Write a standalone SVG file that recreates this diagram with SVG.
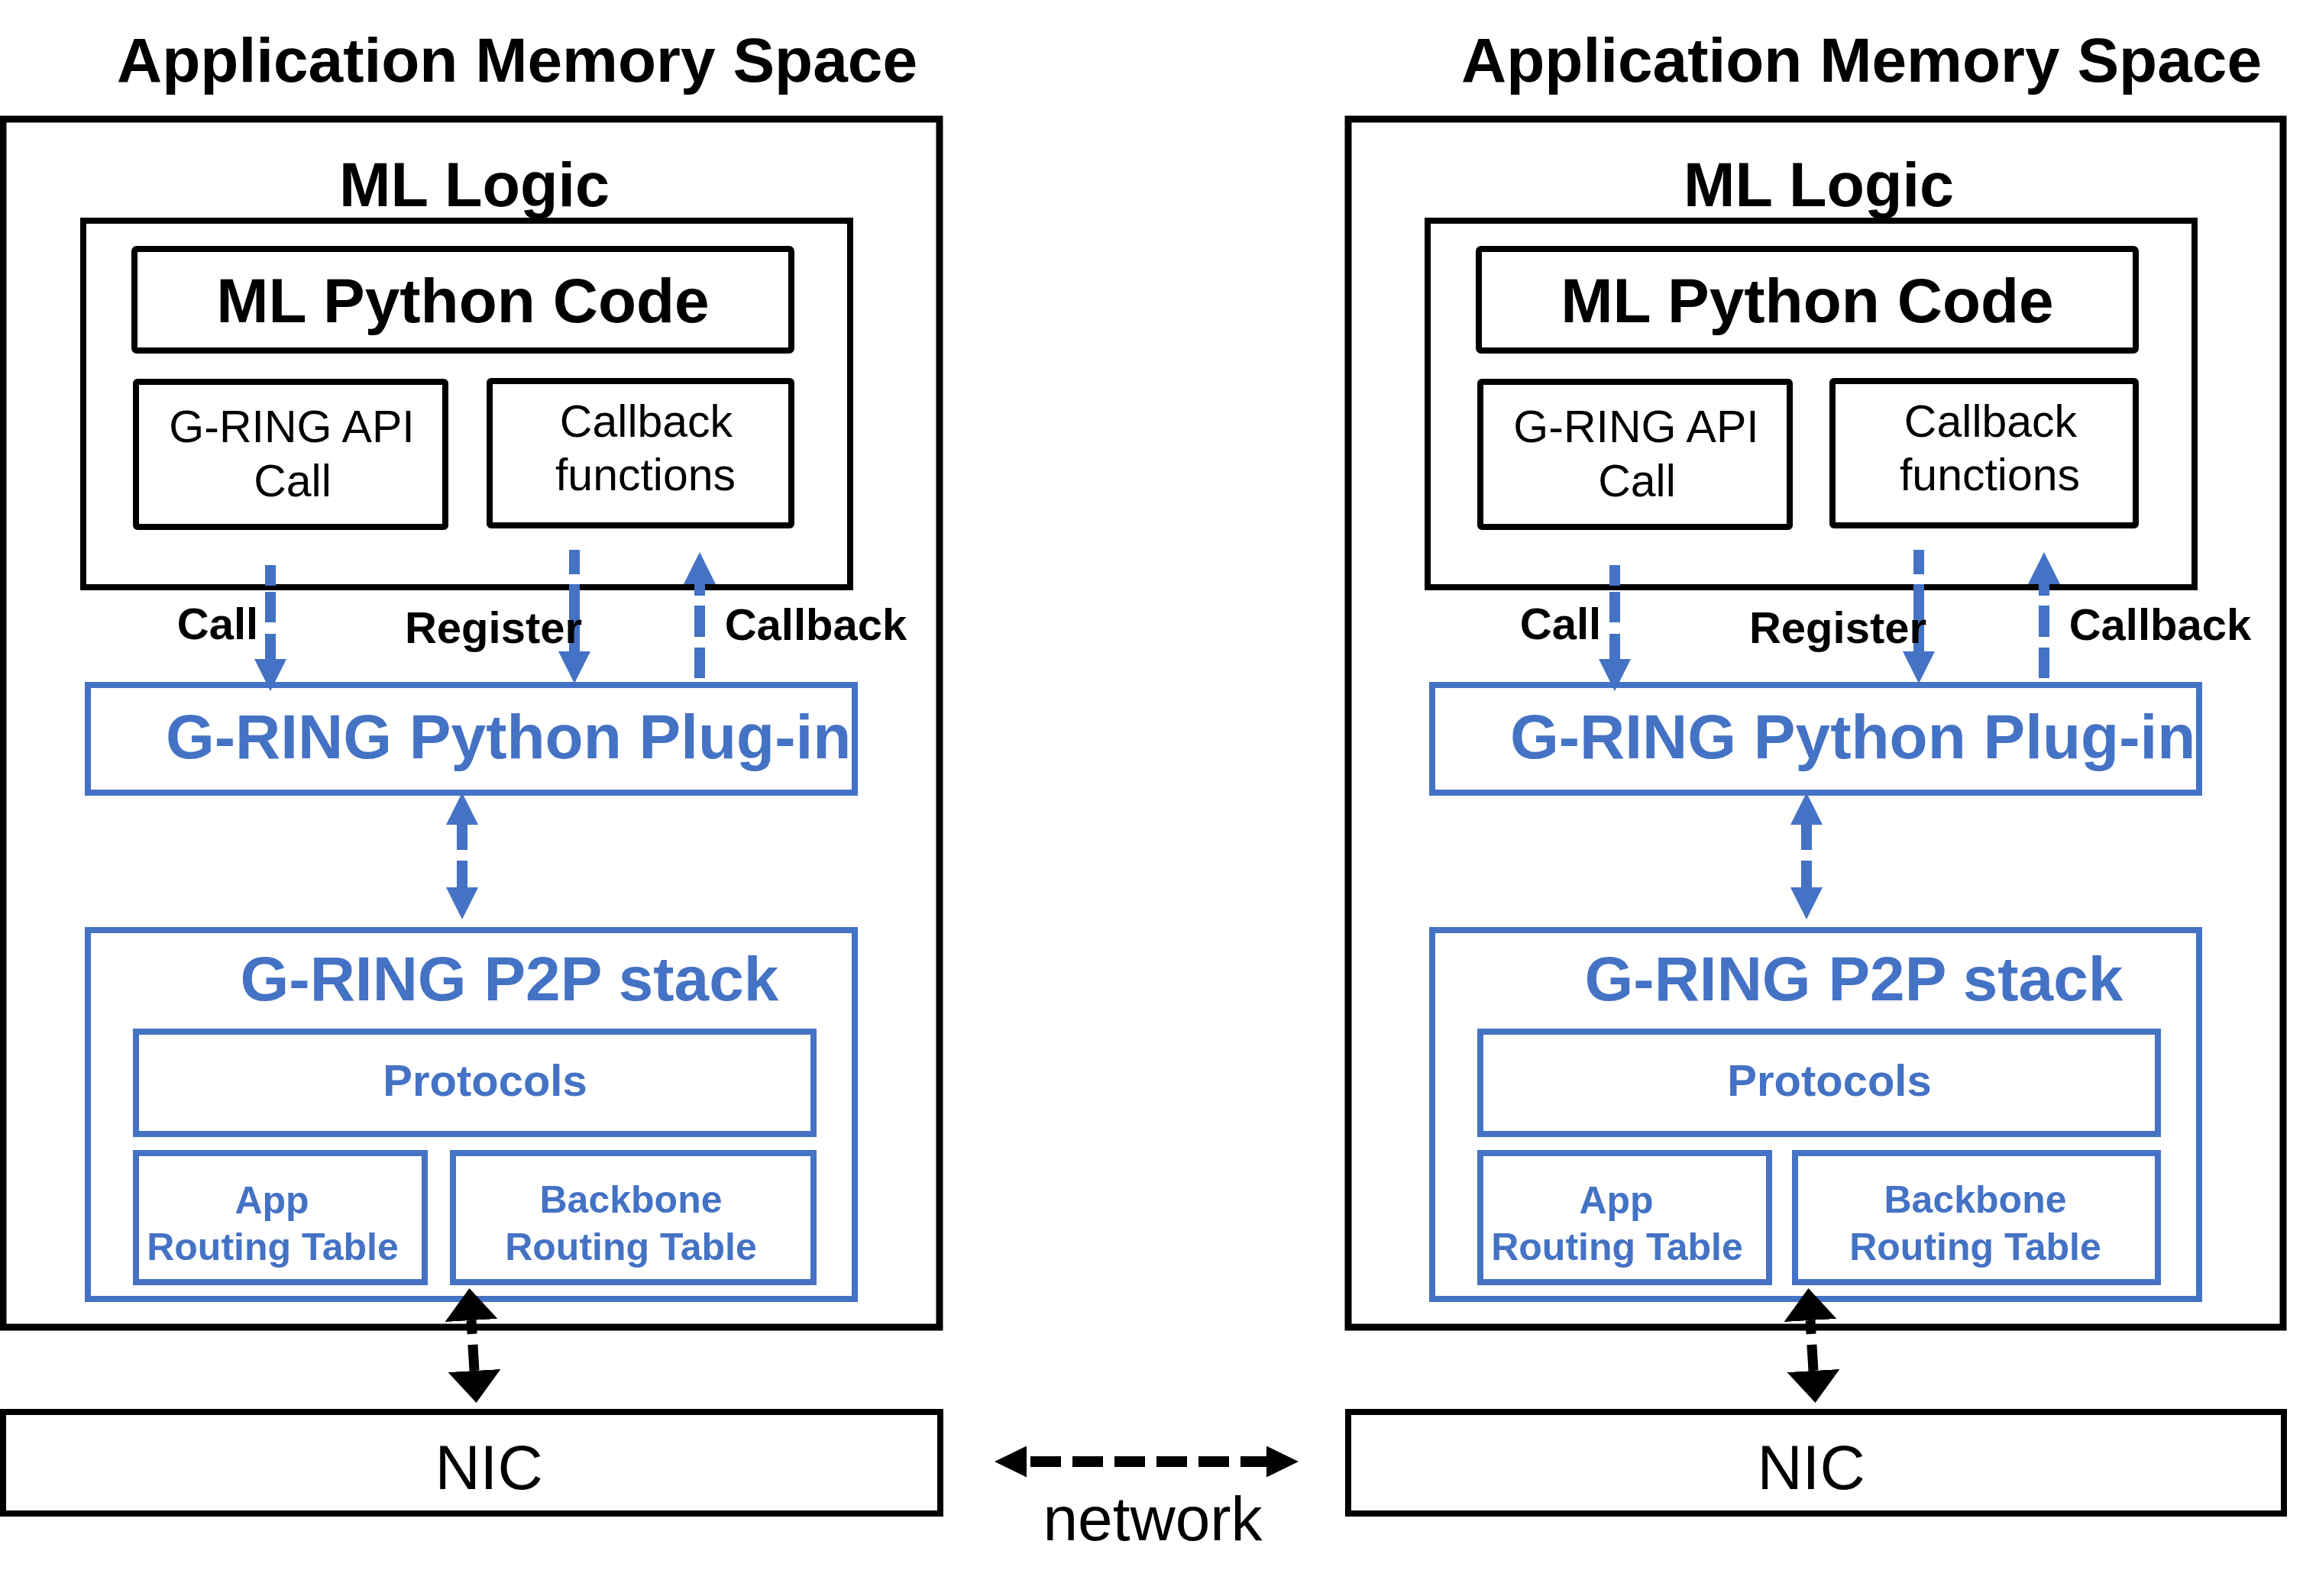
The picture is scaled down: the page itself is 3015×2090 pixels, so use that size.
<svg xmlns="http://www.w3.org/2000/svg" width="3015" height="2090" viewBox="0 0 3015 2090">
<style>
.box{fill:none;stroke:#000;stroke-width:8}
.outer{fill:none;stroke:#000;stroke-width:9}
.bbox{fill:none;stroke:#4472C4;stroke-width:8}
text{font-family:"Liberation Sans",Arial,Helvetica,sans-serif}
.t{fill:#000;text-anchor:middle}
.b{font-weight:bold}
.blue{fill:#4472C4}
.bl{fill:none;stroke:#4472C4;stroke-width:14}
.kl{fill:none;stroke:#000;stroke-width:13}
</style>
<defs>
<marker id="bh" viewBox="0 0 42 42" refX="0" refY="21" markerWidth="42" markerHeight="42" orient="auto-start-reverse" markerUnits="userSpaceOnUse"><path d="M0,0 L42,21 L0,42 z" fill="#4472C4"/></marker>
<marker id="kh" viewBox="0 0 42 69" refX="0" refY="34.5" markerWidth="42" markerHeight="69" orient="auto-start-reverse" markerUnits="userSpaceOnUse"><path d="M0,0 L42,34.5 L0,69 z" fill="#000"/></marker>
<marker id="nh" viewBox="0 0 42 41" refX="0" refY="20.5" markerWidth="42" markerHeight="41" orient="auto-start-reverse" markerUnits="userSpaceOnUse"><path d="M0,0 L42,20.5 L0,41 z" fill="#000"/></marker>
</defs>
<rect width="3015" height="2090" fill="#fff"/>

<!-- LEFT PANEL -->
<g id="left-title"><text class="t b" x="677" y="107" font-size="82">Application Memory Space</text></g>
<g id="left-memory"><rect class="outer" x="4" y="156" width="1226" height="1582"/></g>
<g id="left-ml-logic"><rect class="box" x="109" y="289" width="1004" height="480"/><text class="t b" x="621" y="270" font-size="81">ML Logic</text></g>
<g id="left-ml-python"><rect class="box" x="176" y="326" width="860" height="133" rx="3"/><text class="t b" x="606" y="422" font-size="82">ML Python Code</text></g>
<g id="left-api"><rect class="box" x="178" y="500" width="405" height="190" rx="2"/><text class="t" x="382" y="579" font-size="59">G-RING API</text><text class="t" x="383" y="650" font-size="59">Call</text></g>
<g id="left-callbackfn"><rect class="box" x="641" y="499" width="395" height="189" rx="2"/><text class="t" x="846" y="572" font-size="59">Callback</text><text class="t" x="845" y="642" font-size="59">functions</text></g>
<g id="left-plugin"><rect class="bbox" x="115" y="897" width="1004" height="141"/><text class="b blue" x="217" y="993" font-size="82">G-RING Python Plug-in</text></g>
<g id="left-p2p"><rect class="bbox" x="115" y="1218" width="1004" height="483"/><text class="b blue" text-anchor="middle" x="667" y="1310" font-size="82">G-RING P2P stack</text></g>
<g id="left-protocols"><rect class="bbox" x="178" y="1351" width="887" height="134"/><text class="b blue" text-anchor="middle" x="635" y="1435" font-size="58">Protocols</text></g>
<g id="left-app-rt"><rect class="bbox" x="178" y="1510" width="378" height="169"/><text class="b blue" text-anchor="middle" x="356" y="1589" font-size="50">App</text><text class="b blue" text-anchor="middle" x="357" y="1650" font-size="50">Routing Table</text></g>
<g id="left-backbone-rt"><rect class="bbox" x="593" y="1510" width="472" height="169"/><text class="b blue" text-anchor="middle" x="826" y="1588" font-size="50">Backbone</text><text class="b blue" text-anchor="middle" x="826" y="1650" font-size="50">Routing Table</text></g>
<g id="left-nic"><rect class="box" x="4" y="1849" width="1227" height="133" stroke-width="8.5"/><text class="t" x="640" y="1950" font-size="82">NIC</text></g>

<!-- RIGHT PANEL -->
<g id="right-title"><text class="t b" x="2437" y="107" font-size="82">Application Memory Space</text></g>
<g id="right-memory"><rect class="outer" x="1765" y="156" width="1224" height="1582"/></g>
<g id="right-ml-logic"><rect class="box" x="1869" y="289" width="1004" height="480"/><text class="t b" x="2381" y="270" font-size="81">ML Logic</text></g>
<g id="right-ml-python"><rect class="box" x="1936" y="326" width="860" height="133" rx="3"/><text class="t b" x="2366" y="422" font-size="82">ML Python Code</text></g>
<g id="right-api"><rect class="box" x="1938" y="500" width="405" height="190" rx="2"/><text class="t" x="2142" y="579" font-size="59">G-RING API</text><text class="t" x="2143" y="650" font-size="59">Call</text></g>
<g id="right-callbackfn"><rect class="box" x="2399" y="499" width="397" height="189" rx="2"/><text class="t" x="2606" y="572" font-size="59">Callback</text><text class="t" x="2605" y="642" font-size="59">functions</text></g>
<g id="right-plugin"><rect class="bbox" x="1875" y="897" width="1004" height="141"/><text class="b blue" x="1977" y="993" font-size="82">G-RING Python Plug-in</text></g>
<g id="right-p2p"><rect class="bbox" x="1875" y="1218" width="1004" height="483"/><text class="b blue" text-anchor="middle" x="2427" y="1310" font-size="82">G-RING P2P stack</text></g>
<g id="right-protocols"><rect class="bbox" x="1938" y="1351" width="887" height="134"/><text class="b blue" text-anchor="middle" x="2395" y="1435" font-size="58">Protocols</text></g>
<g id="right-app-rt"><rect class="bbox" x="1938" y="1510" width="378" height="169"/><text class="b blue" text-anchor="middle" x="2116" y="1589" font-size="50">App</text><text class="b blue" text-anchor="middle" x="2117" y="1650" font-size="50">Routing Table</text></g>
<g id="right-backbone-rt"><rect class="bbox" x="2350" y="1510" width="475" height="169"/><text class="b blue" text-anchor="middle" x="2586" y="1588" font-size="50">Backbone</text><text class="b blue" text-anchor="middle" x="2586" y="1650" font-size="50">Routing Table</text></g>
<g id="right-nic"><rect class="box" x="1765" y="1849" width="1225" height="133" stroke-width="8.5"/><text class="t" x="2371" y="1950" font-size="82">NIC</text></g>

<!-- CONNECTORS -->
<g id="connectors">
<path class="bl" d="M354,740 V863" stroke-dasharray="27 8 40 15 60" marker-end="url(#bh)"/>
<path class="bl" d="M752,720 V853" stroke-dasharray="32 13 100" marker-end="url(#bh)"/>
<path class="bl" d="M916,888 V765" stroke-dasharray="40 14 41 13 40" marker-end="url(#bh)"/>
<path class="bl" d="M605,1080 V1162" stroke-dasharray="33 14 40" marker-start="url(#bh)" marker-end="url(#bh)"/>
<path class="kl" d="M617,1729 L621,1795" stroke-dasharray="18 14 40" marker-start="url(#kh)" marker-end="url(#kh)"/>

<path class="bl" d="M2114,740 V863" stroke-dasharray="27 8 40 15 60" marker-end="url(#bh)"/>
<path class="bl" d="M2512,720 V853" stroke-dasharray="32 13 100" marker-end="url(#bh)"/>
<path class="bl" d="M2676,888 V765" stroke-dasharray="40 14 41 13 40" marker-end="url(#bh)"/>
<path class="bl" d="M2365,1080 V1162" stroke-dasharray="33 14 40" marker-start="url(#bh)" marker-end="url(#bh)"/>
<path class="kl" d="M2370,1729 L2374,1795" stroke-dasharray="18 14 40" marker-start="url(#kh)" marker-end="url(#kh)"/>

<path d="M1344,1914 H1658" fill="none" stroke="#000" stroke-width="14" stroke-dasharray="40 15" stroke-dashoffset="50" marker-start="url(#nh)" marker-end="url(#nh)"/>

<text class="t b" x="285" y="837" font-size="58">Call</text>
<text class="t b" x="646" y="842" font-size="58">Register</text>
<text class="t b" x="1068" y="838" font-size="58">Callback</text>
<text class="t b" x="2043" y="837" font-size="58">Call</text>
<text class="t b" x="2406" y="842" font-size="58">Register</text>
<text class="t b" x="2828" y="838" font-size="58">Callback</text>
<text class="t" x="1509" y="2017" font-size="82">network</text>
</g>
</svg>
